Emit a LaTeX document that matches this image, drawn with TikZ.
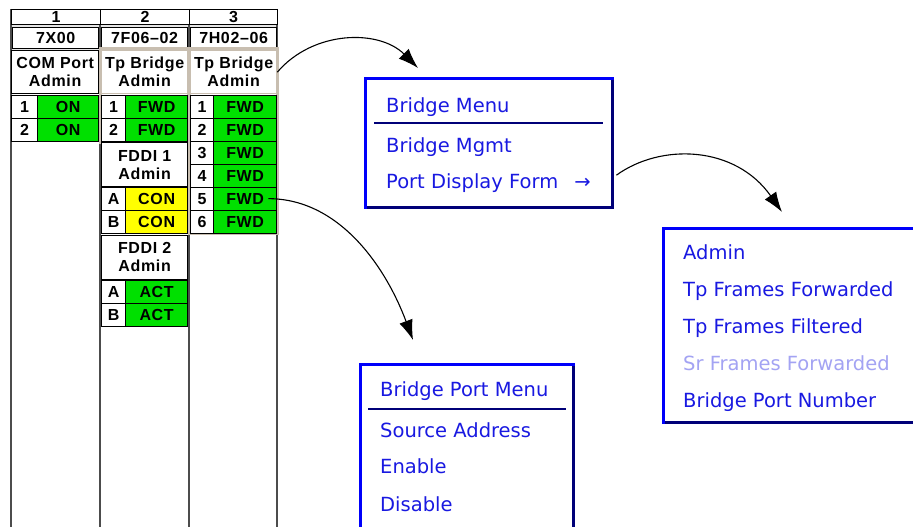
\documentclass[tikz,border=0pt]{standalone}
\usepackage{fontspec}
\setmainfont{Liberation Sans}
\newfontfamily\cellfont[LetterSpace=4]{Liberation Sans}
\newfontfamily\menufont{DejaVu Sans}
\usetikzlibrary{arrows.meta}

\definecolor{slotgreen}{RGB}{0,224,0}
\definecolor{slotyellow}{RGB}{255,255,0}
\definecolor{bevel}{RGB}{200,190,176}
\definecolor{menublue}{RGB}{0,0,250}
\definecolor{menunavy}{RGB}{0,0,120}
\definecolor{menutext}{RGB}{25,25,225}

\tikzset{
  tbl/.style={draw=black, line width=1.3pt, inner sep=0pt, anchor=north west,
    font=\cellfont\bfseries\fontsize{16}{18}\selectfont},
  hdcell/.style={tbl, fill=white, minimum height=15pt},
  slotcell/.style={tbl, fill=white, minimum width=86pt, minimum height=21pt},
  admincell/.style={tbl, fill=white, align=center, minimum width=86pt, minimum height=43pt},
  numcell/.style={tbl, fill=white, minimum height=23pt},
  valcell/.style={tbl, fill=slotgreen, minimum height=23pt},
  colrule/.style={gray!60!black, line width=1.5pt},
  menubox/.style={fill=white, inner sep=0pt, anchor=north west},
  menuitem/.style={anchor=base west, inner sep=0pt, text=menutext,
    font=\menufont\fontsize{19.5}{22}\selectfont},
  popout/.style={line width=1.1pt, -{Latex[length=20pt,width=14pt]}},
}

\begin{document}
\begin{tikzpicture}[x=1pt, y=-1pt]
\useasboundingbox (0,0) rectangle (913,527);

% chassis columns
\fill[gray!20] (11,24) rectangle (277,50);
\foreach \x in {11,100,189,277}
  \draw[colrule] (\x,9) -- (\x,527);

% slot numbers and modules
\node[hdcell, minimum width=89pt] (h1) at (11,9) {1};
\node[hdcell, minimum width=89pt] (h2) at (100,9) {2};
\node[hdcell, minimum width=88pt] (h3) at (189,9) {3};
\node[slotcell] (s1) at (12,27) {7X00};
\node[slotcell] (s2) at (101,27) {7F06–02};
\node[slotcell] (s3) at (190,27) {7H02–06};

% raised frame round the bridge ports
\draw[bevel, line width=3pt] (100,49) rectangle (188,142);
\draw[bevel, line width=3pt] (189,49) rectangle (277,233);

% slot 1
\node[admincell, minimum width=87pt] (c1adm) at (11,50) {COM Port\\Admin};
\foreach \i in {1,2} {
  \node[numcell, minimum width=26pt] (c1n\i) at (11,{94.5+23*(\i-1)}) {\i};
  \node[valcell, minimum width=61pt] (c1v\i) at (37,{94.5+23*(\i-1)}) {ON};
}

% slot 2
\node[admincell, draw=bevel] (c2adm) at (101,50) {Tp Bridge\\Admin};
\foreach \i in {1,2} {
  \node[numcell, minimum width=24pt] (c2n\i) at (101,{94.5+23*(\i-1)}) {\i};
  \node[valcell, minimum width=62pt] (c2v\i) at (125,{94.5+23*(\i-1)}) {FWD};
}
\node[admincell, minimum height=44pt] (fddi1) at (101,142) {FDDI 1\\Admin};
\node[numcell, minimum width=24pt] (f1na) at (101,186.5) {A};
\node[valcell, fill=slotyellow, minimum width=62pt] (f1va) at (125,186.5) {CON};
\node[numcell, minimum width=24pt] (f1nb) at (101,209.5) {B};
\node[valcell, fill=slotyellow, minimum width=62pt] (f1vb) at (125,209.5) {CON};
\node[admincell, minimum height=44pt] (fddi2) at (101,234.5) {FDDI 2\\Admin};
\node[numcell, minimum width=24pt] (f2na) at (101,279.5) {A};
\node[valcell, minimum width=62pt] (f2va) at (125,279.5) {ACT};
\node[numcell, minimum width=24pt] (f2nb) at (101,302.5) {B};
\node[valcell, minimum width=62pt] (f2vb) at (125,302.5) {ACT};

% slot 3
\node[admincell, draw=bevel] (c3adm) at (190,50) {Tp Bridge\\Admin};
\foreach \i in {1,...,6} {
  \node[numcell, minimum width=23pt] (c3n\i) at (190,{94.5+23*(\i-1)}) {\i};
  \node[valcell, minimum width=63pt] (c3v\i) at (213,{94.5+23*(\i-1)}) {FWD};
}

% bridge menu
\node[menubox, minimum width=247pt, minimum height=128pt] (bmenu) at (365,79) {};
\draw[menunavy, line width=3pt, line cap=rect] (bmenu.north east) -- (bmenu.south east) -- (bmenu.south west);
\draw[menublue, line width=3pt, line cap=rect] (bmenu.south west) -- (bmenu.north west) -- (bmenu.north east);
\draw[menunavy, line width=2.5pt] (374,123) -- (603,123);
\node[menuitem] (bmtitle) at (386,112) {Bridge Menu};
\node[menuitem] (bmmgmt) at (386,152) {Bridge Mgmt};
\node[menuitem] (bmform) at (386,188) {Port Display Form\hspace{16pt}→};

% display form submenu
\node[menubox, minimum width=260pt, minimum height=194pt] (fmenu) at (663,228) {};
\draw[menunavy, line width=3pt, line cap=rect] (fmenu.north east) -- (fmenu.south east) -- (fmenu.south west);
\draw[menublue, line width=3pt, line cap=rect] (fmenu.south west) -- (fmenu.north west) -- (fmenu.north east);
\node[menuitem] (fmadmin) at (683,259) {Admin};
\node[menuitem] (fmfwd) at (683,296) {Tp Frames Forwarded};
\node[menuitem] (fmfilt) at (683,333) {Tp Frames Filtered};
\node[menuitem, text=menutext!40] (fmsr) at (683,370) {Sr Frames Forwarded};
\node[menuitem] (fmport) at (683,407) {Bridge Port Number};

% bridge port menu
\node[menubox, minimum width=213pt, minimum height=180pt] (pmenu) at (360,364) {};
\draw[menunavy, line width=3pt, line cap=rect] (pmenu.north east) -- (pmenu.south east) -- (pmenu.south west);
\draw[menublue, line width=3pt, line cap=rect] (pmenu.south west) -- (pmenu.north west) -- (pmenu.north east);
\draw[menunavy, line width=2.5pt] (368,409) -- (566,409);
\node[menuitem] (pmtitle) at (380,396) {Bridge Port Menu};
\node[menuitem] (pmsrc) at (380,437) {Source Address};
\node[menuitem] (pmen) at (380,473) {Enable};
\node[menuitem] (pmdis) at (380,511) {Disable};

% pop-out arrows
\coordinate (bmtip) at (418,68);
\coordinate (fmtip) at (782,212);
\coordinate (pmtip) at (413,340);
\draw[popout] (c3adm.east) .. controls +(36,-42) and +(-39,-39) .. (bmtip);
\draw[popout] ([xshift=4pt,yshift=-32pt]bmenu.east) .. controls +(44,-32) and +(-47,-67) .. (fmtip);
\draw[popout] ([xshift=-9pt]c3v5.east) .. controls +(70,0) and +(-28,-75) .. (pmtip);
\end{tikzpicture}
\end{document}
